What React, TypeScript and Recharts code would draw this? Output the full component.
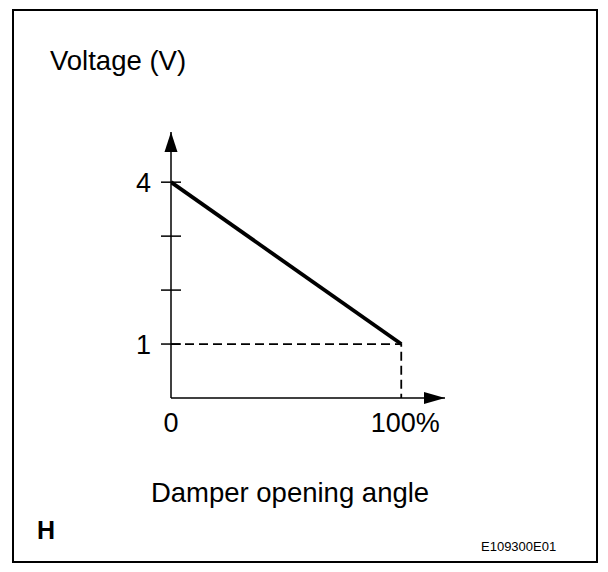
import { LineChart, Line, XAxis, YAxis, ReferenceDot } from "recharts";

// values
const openingAngle = [0, 100];
const voltage = [4, 1];
const guideX = [0, 100, 100];
const guideY = [1, 1, 0];
const yTicks = [1, 2, 3, 4];
const yTickLabels = ["1", "", "", "4"];
const xTicks = [0, 100];
const xTickLabels = ["0", "100%"];
const xAxisEnd = 119;
const yAxisEnd = 4.93;

const mainData = openingAngle.map((x, i) => ({ x, v: voltage[i] }));
const guideData = guideX.map((x, i) => ({ x, v: guideY[i] }));

const FONT = "Liberation Sans, Arial, sans-serif";

const YTick = (props: any) => {
  const { x, y, payload } = props;
  const axisX = x + 20;
  const label = yTickLabels[yTicks.indexOf(payload.value)];
  return (
    <g>
      <line x1={axisX - 10} x2={axisX + 10} y1={y} y2={y} stroke="#000" strokeWidth={1.5} />
      {label !== "" && (
        <text
          x={x}
          y={y + 10}
          textAnchor="end"
          fontFamily={FONT}
          fontSize={27}
          style={{ fontSize: 27, fontFamily: FONT }}
          fill="#000"
        >
          {label}
        </text>
      )}
    </g>
  );
};

const XTick = (props: any) => {
  const { x, y, payload } = props;
  const label = xTickLabels[xTicks.indexOf(payload.value)];
  return (
    <text
      x={payload.value === 100 ? x + 4 : x}
      y={y + 19}
      textAnchor="middle"
      fontFamily={FONT}
      fontSize={27}
      style={{ fontSize: 27, fontFamily: FONT }}
      fill="#000"
    >
      {label}
    </text>
  );
};

const UpArrow = (props: any) => {
  const { cx, cy } = props;
  return <path d={`M${cx},${cy} L${cx - 6.5},${cy + 20} L${cx + 6.5},${cy + 20} Z`} fill="#000" />;
};

const RightArrow = (props: any) => {
  const { cx, cy } = props;
  return <path d={`M${cx},${cy} L${cx - 21},${cy - 6} L${cx - 21},${cy + 6} Z`} fill="#000" />;
};

export default function App() {
  return (
    <div
      style={{
        position: "absolute",
        left: 0,
        top: 0,
        width: 608,
        height: 572,
        background: "#fff",
        fontFamily: FONT,
        color: "#000",
      }}
    >
      <div
        style={{
          position: "absolute",
          left: 12,
          top: 9,
          width: 582,
          height: 550,
          border: "2px solid #000",
        }}
      />
      <div style={{ position: "absolute", left: 50, top: 46, fontSize: 27.5, lineHeight: "30px" }}>
        Voltage (V)
      </div>
      <div
        style={{
          position: "absolute",
          left: 90,
          width: 400,
          top: 478,
          textAlign: "center",
          fontSize: 27.5,
          lineHeight: "30px",
        }}
      >
        Damper opening angle
      </div>
      <div style={{ position: "absolute", left: 37, top: 516, fontSize: 25, fontWeight: "bold", lineHeight: "28px" }}>
        H
      </div>
      <div style={{ position: "absolute", left: 481, top: 539, fontSize: 13, lineHeight: "16px" }}>
        E109300E01
      </div>
      <div style={{ position: "absolute", left: 0, top: 0 }}>
        <LineChart width={608} height={572} margin={{ top: 132, right: 163, bottom: 134, left: 0 }}>
          <XAxis
            type="number"
            dataKey="x"
            domain={[0, xAxisEnd]}
            ticks={xTicks}
            height={40}
            tickLine={false}
            tickSize={0}
            tickMargin={15}
            axisLine={{ stroke: "#000", strokeWidth: 1.5 }}
            tick={<XTick />}
            allowDataOverflow
          />
          <YAxis
            type="number"
            domain={[0, yAxisEnd]}
            ticks={yTicks}
            width={171}
            tickLine={false}
            tickSize={10}
            tickMargin={10}
            axisLine={{ stroke: "#000", strokeWidth: 1.5 }}
            tick={<YTick />}
            allowDataOverflow
          />
          <Line
            data={guideData}
            dataKey="v"
            type="linear"
            stroke="#000"
            strokeWidth={1.8}
            strokeDasharray="9 5"
            dot={false}
            isAnimationActive={false}
          />
          <Line
            data={mainData}
            dataKey="v"
            type="linear"
            stroke="#000"
            strokeWidth={3.8}
            dot={false}
            isAnimationActive={false}
          />
          <ReferenceDot x={0} y={yAxisEnd} shape={<UpArrow />} ifOverflow="visible" />
          <ReferenceDot x={xAxisEnd} y={0} shape={<RightArrow />} ifOverflow="visible" />
        </LineChart>
      </div>
    </div>
  );
}
